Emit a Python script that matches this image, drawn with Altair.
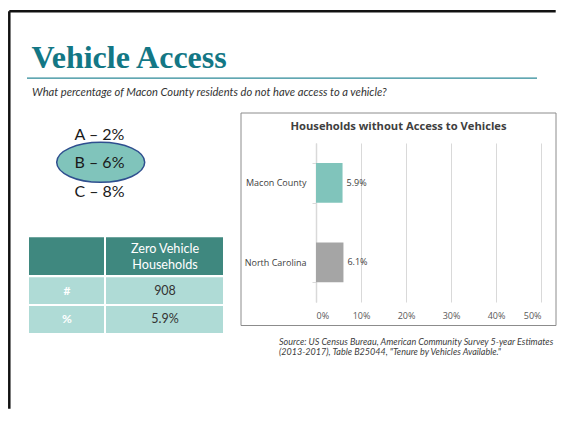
import altair as alt
import pandas as pd

# ---- data ----
categories = ["Macon County", "North Carolina"]
values = [0.059, 0.061]
bar_colors = ["#80C4BB", "#A5A5A5"]
x_ticks = [0, 0.1, 0.2, 0.3, 0.4, 0.5]

slide_title = "Vehicle Access"
question = "What percentage of Macon County residents do not have access to a vehicle?"
answers = ["A \u2013 2%", "B \u2013 6%", "C \u2013 8%"]
chart_title = "Households without Access to Vehicles"
table_header = ["Zero Vehicle", "Households"]
table_rows = [["#", "908"], ["%", "5.9%"]]
source_lines = [
    "Source: US Census Bureau, American Community Survey 5-year Estimates",
    "(2013-2017), Table B25044, \"Tenure by Vehicles Available.\"",
]

# plot origin in page coordinates
OX, OY = 316, 143
W, H = 225, 159

dummy = pd.DataFrame({"d": [0]})


def rect(x1, y1, x2, y2, **kw):
    return alt.Chart(dummy).mark_rect(**kw).encode(
        x=alt.value(x1 - OX), x2=alt.value(x2 - OX),
        y=alt.value(y1 - OY), y2=alt.value(y2 - OY))


def hrule(x1, x2, y, **kw):
    return alt.Chart(dummy).mark_rule(**kw).encode(
        x=alt.value(x1 - OX), x2=alt.value(x2 - OX), y=alt.value(y - OY))


def vrule(x, y1, y2, **kw):
    return alt.Chart(dummy).mark_rule(**kw).encode(
        x=alt.value(x - OX), y=alt.value(y1 - OY), y2=alt.value(y2 - OY))


def txt(s, X, Y, **kw):
    return alt.Chart(pd.DataFrame({"t": [s]})).mark_text(**kw).encode(
        x=alt.value(X - OX), y=alt.value(Y - OY), text="t:N")


layers = []
# bounds of the whole slide (invisible)
layers.append(rect(8, 8, 557, 410, fill="white", fillOpacity=0, strokeWidth=0))
# slide border
layers.append(hrule(9.3, 555.7, 11.25, color="#111111", strokeWidth=2.5))
layers.append(vrule(9.3, 11.25, 408.7, color="#111111", strokeWidth=2.5))
# title
layers.append(txt(slide_title, 31.5, 67.5, font="Liberation Serif", fontSize=32,
                  fontWeight="bold", color="#137785", align="left", baseline="alphabetic"))
layers.append(hrule(27, 537, 78.2, color="#2C8A98", strokeWidth=1.2))
layers.append(txt(question, 32, 93, font="Lato", fontSize=11.15, fontStyle="italic",
                  color="#333333", align="left", baseline="middle"))
# answers
ell = "M-1,0A1,0.455 0 1,1 1,0A1,0.455 0 1,1 -1,0Z"
layers.append(alt.Chart(dummy).mark_point(shape=ell, size=7744, filled=True, fill="#80C4BB",
                                          stroke="#2F4F8F", strokeWidth=1.5, opacity=1).encode(
    x=alt.value(100.7 - OX), y=alt.value(162.3 - OY)))
for s, Y in zip(answers, [135, 163.3, 191.7]):
    layers.append(txt(s, 99.5, Y, font="Lato", fontSize=16, color="#1a1a1a",
                      align="center", baseline="middle"))
# table
layers.append(rect(29, 237.3, 104, 275, fill="#3F887F", strokeWidth=0))
layers.append(rect(106, 237.3, 223, 275, fill="#3F887F", strokeWidth=0))
for (Y1, Y2) in [(277.3, 304), (306, 333)]:
    layers.append(rect(29, Y1, 104, Y2, fill="#AFDBD6", strokeWidth=0))
    layers.append(rect(106, Y1, 223, Y2, fill="#AFDBD6", strokeWidth=0))
for s, Y in zip(table_header, [249, 264.5]):
    layers.append(txt(s, 165, Y, font="Lato", fontSize=12.6, color="white",
                      align="center", baseline="middle"))
for row, Y in zip(table_rows, [291, 319]):
    layers.append(txt(row[0], 67, Y, font="Lato", fontSize=12, fontWeight="bold",
                      color="white", align="center", baseline="middle"))
    layers.append(txt(row[1], 165, Y, font="Lato", fontSize=12.5, color="#333333",
                      align="center", baseline="middle"))
# chart box
layers.append(rect(241, 113, 556, 325.5, fill="white", fillOpacity=0,
                   stroke="#8C8C8C", strokeWidth=1))
layers.append(txt(chart_title, 398.5, 126.7, font="Open Sans", fontSize=11.2,
                  fontWeight="bold", color="#404040", align="center", baseline="middle"))
# source
for s, Y in zip(source_lines, [341.7, 352.3]):
    layers.append(txt(s, 279, Y, font="Lato", fontSize=9, fontStyle="italic",
                      color="#404040", align="left", baseline="middle"))

# ---- bar chart ----
df = pd.DataFrame({"category": categories, "value": values})
base = alt.Chart(df).encode(
    x=alt.X("value:Q", scale=alt.Scale(domain=[0, 0.5]),
            axis=alt.Axis(values=x_ticks, format=".0%", title=None, grid=True,
                          gridColor="#D9D9D9", gridWidth=1, domain=False, ticks=False,
                          labelFont="Open Sans", labelFontSize=9, labelColor="#595959",
                          labelPadding=9)),
    y=alt.Y("category:N", sort=categories,
            scale=alt.Scale(paddingInner=0.5, paddingOuter=0.25),
            axis=alt.Axis(title=None, domainColor="#D9D9D9", domainWidth=1.5,
                          tickBand="extent", tickColor="#D9D9D9", tickSize=4,
                          labelFont="Open Sans", labelFontSize=9, labelColor="#404040",
                          labelPadding=6)),
)
bars = base.mark_bar().encode(
    color=alt.Color("category:N", scale=alt.Scale(domain=categories, range=bar_colors),
                    legend=None))
labels = base.mark_text(align="left", dx=4, font="Open Sans", fontSize=9,
                        color="#404040").encode(text=alt.Text("value:Q", format=".1%"))

layers += [bars, labels]

chart = alt.layer(*layers).properties(width=W, height=H, padding=0).configure_view(
    strokeWidth=0)

chart.save("out.html", embed_options={"renderer": "svg", "actions": False})
